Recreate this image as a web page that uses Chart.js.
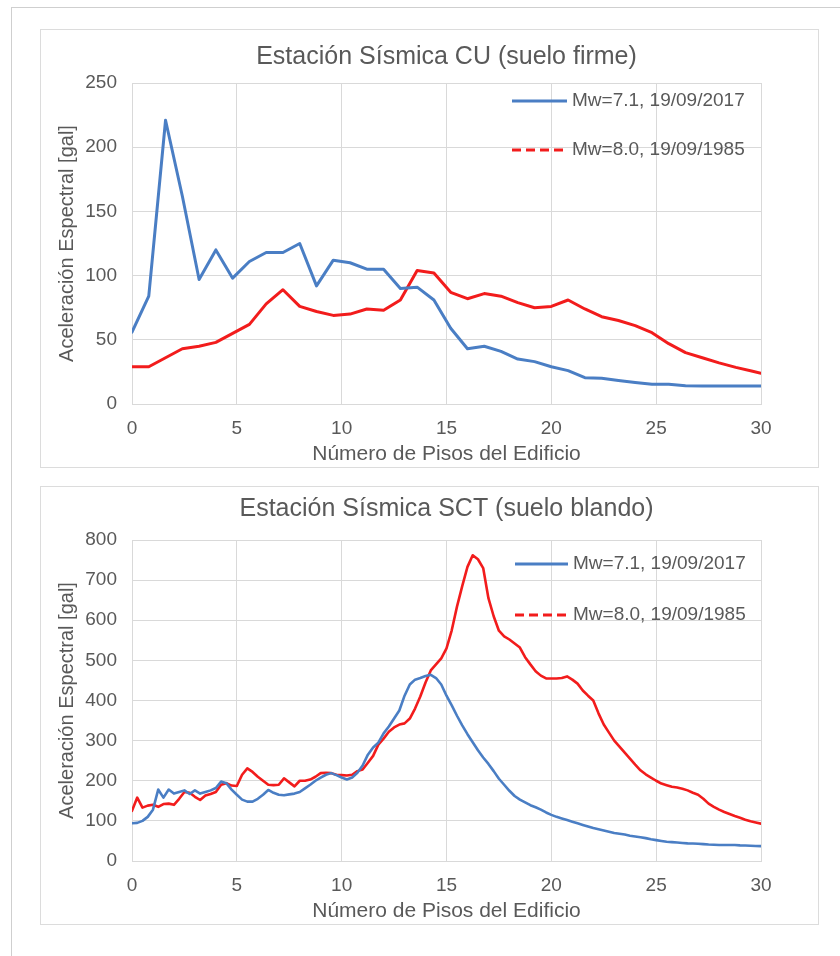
<!DOCTYPE html>
<html>
<head>
<meta charset="utf-8">
<script src="https://cdn.jsdelivr.net/npm/chart.js@4"></script>
<style>
  html, body { margin: 0; padding: 0; background: #fff; }
  body { width: 840px; height: 956px; position: relative; overflow: hidden; }
  .page { position: absolute; left: 11px; top: 7px; right: 0; bottom: 0; border-top: 1px solid #cfcfcf; border-left: 1px solid #cfcfcf; }
  .box { position: absolute; left: 40px; width: 777px; height: 437px; border: 1px solid #dcdcdc; background: #fff; }
  .box div { position: absolute; left: 0; top: 0; width: 777px; height: 437px; }
</style>
</head>
<body>
<div class="page"></div>
<div class="box" style="top:29px"><div><canvas id="chartCU"></canvas></div></div>
<div class="box" style="top:486px"><div><canvas id="chartSCT"></canvas></div></div>
<script>
// Estación CU (suelo firme)
const xCU = [0, 0.8, 1.6, 2.4, 3.2, 4, 4.8, 5.6, 6.4, 7.2, 8, 8.8, 9.6, 10.4, 11.2, 12, 12.8, 13.6, 14.4, 15.2,
  16, 16.8, 17.6, 18.4, 19.2, 20, 20.8, 21.6, 22.4, 23.2, 24, 24.8, 25.6, 26.4, 27.2, 28, 28.8, 29.6, 30];
const cu2017 = [56, 84, 221, 162, 97, 120, 98, 111, 118, 118, 125, 92, 112, 110, 105, 105, 90, 91, 81, 59,
  43, 45, 41, 35, 33, 29, 26, 20.5, 20, 18.3, 16.7, 15.3, 15.3, 14.2, 14, 14, 14, 14, 14];
const cu1985 = [29, 29, 36, 43, 45, 48, 55, 62, 78, 89, 76, 72, 69, 70, 74, 73, 81, 104, 102, 87,
  82, 86, 84, 79, 75, 76, 81, 74, 68, 65, 61, 55.5, 47, 40, 36, 32, 28.5, 25.5, 24];

// Estación SCT (suelo blando)
const xSCT = [0, 0.25, 0.5, 0.75, 1, 1.25, 1.5, 1.75, 2, 2.25, 2.5, 2.75, 3, 3.25, 3.5, 3.75, 4, 4.25, 4.5, 4.75,
  5, 5.25, 5.5, 5.75, 6, 6.25, 6.5, 6.75, 7, 7.25, 7.5, 7.75, 8, 8.25, 8.5, 8.75, 9, 9.25, 9.5, 9.75,
  10, 10.25, 10.5, 10.75, 11, 11.25, 11.5, 11.75, 12, 12.25, 12.5, 12.75, 13, 13.25, 13.5, 13.75, 14, 14.25, 14.5, 14.75,
  15, 15.25, 15.5, 15.75, 16, 16.25, 16.5, 16.75, 17, 17.25, 17.5, 17.75, 18, 18.25, 18.5, 18.75, 19, 19.25, 19.5, 19.75,
  20, 20.25, 20.5, 20.75, 21, 21.25, 21.5, 21.75, 22, 22.25, 22.5, 22.75, 23, 23.25, 23.5, 23.75, 24, 24.25, 24.5, 24.75,
  25, 25.25, 25.5, 25.75, 26, 26.25, 26.5, 26.75, 27, 27.25, 27.5, 27.75, 28, 28.25, 28.5, 28.75, 29, 29.25, 29.5, 29.75, 30];
const sct2017 = [94, 95, 100, 110, 128, 178, 158, 178, 168, 172, 176, 167, 176, 168, 172, 176, 182, 198, 194, 178,
  165, 153, 148, 148, 155, 165, 177, 170, 165, 164, 166, 168, 172, 181, 190, 200, 208, 215, 219, 214,
  208, 203, 208, 220, 238, 265, 283, 295, 318, 335, 355, 375, 412, 440, 452, 456, 461, 464, 456, 440,
  412, 388, 362, 338, 316, 296, 276, 258, 242, 224, 205, 190, 175, 162, 153, 146, 139, 134, 128, 121,
  115, 110, 106, 102, 98, 94, 90, 86, 82, 79, 76, 73, 70, 68, 66, 63, 61, 59, 57, 54,
  52, 50, 48, 47, 46, 45, 44, 43.5, 43, 42, 41, 40.5, 40, 40, 40, 40, 39, 38.5, 38, 37.5, 37];
const sct1985 = [125, 158, 133, 138, 140, 135, 142, 143, 140, 155, 172, 170, 160, 152, 163, 167, 172, 190, 194, 188,
  187, 215, 231, 222, 210, 200, 190, 189, 190, 206, 196, 186, 200, 200, 203, 210, 219, 220, 219, 215,
  214, 213, 215, 224, 228, 245, 262, 290, 305, 322, 333, 340, 343, 355, 380, 410, 445, 475, 490, 505,
  530, 575, 634, 685, 733, 762, 752, 730, 655, 610, 574, 560, 552, 542, 532, 508, 490, 473, 462, 455,
  455, 455, 456, 460, 452, 442, 425, 412, 400, 368, 340, 320, 300, 285, 270, 255, 240, 226, 216, 208,
  200, 193, 189, 185, 183, 180, 176, 170, 165, 155, 143, 135, 128, 122, 117, 112, 108, 103, 99, 96, 93];

const xTicks = [0, 5, 10, 15, 20, 25, 30];
const labels = ['Mw=7.1, 19/09/2017', 'Mw=8.0, 19/09/1985'];

const AZUL = '#4a7ec4';
const ROJO = '#f21c1c';
const TEXTO = '#595959';
const GRID = '#d9d9d9';
const FUENTE = '"Liberation Sans", Arial, sans-serif';

// titulo centrado sobre el area del grafico + leyenda dentro del area (como en Excel)
const decoExcel = {
  id: 'decoExcel',
  afterDraw(chart, args, opts) {
    const { ctx, chartArea } = chart;
    ctx.save();
    ctx.fillStyle = TEXTO;
    ctx.font = '25px ' + FUENTE;
    ctx.textAlign = 'center';
    ctx.textBaseline = 'middle';
    ctx.fillText(opts.titulo, (chartArea.left + chartArea.right) / 2, opts.tituloY);

    ctx.textAlign = 'left';
    ctx.font = '19px ' + FUENTE;
    chart.data.datasets.forEach((ds, i) => {
      const y = chartArea.top + opts.rows[i];
      const x0 = chartArea.left + opts.x;
      ctx.beginPath();
      ctx.strokeStyle = ds.borderColor;
      ctx.lineWidth = 3;
      ctx.setLineDash(i === 1 ? [9, 5] : []);
      ctx.moveTo(x0, y);
      ctx.lineTo(x0 + opts.len, y);
      ctx.stroke();
      ctx.setLineDash([]);
      ctx.fillText(ds.label, x0 + opts.len + 5, y);
    });
    ctx.restore();
  }
};

function puntos(xs, ys) {
  return xs.map((x, i) => ({ x: x, y: ys[i] }));
}

function crearGrafico(id, titulo, xs, s2017, s1985, yMax, yStep, deco, ancho) {
  new Chart(document.getElementById(id), {
    type: 'line',
    data: {
      datasets: [
        { label: labels[0], data: puntos(xs, s2017), borderColor: AZUL, borderWidth: ancho },
        { label: labels[1], data: puntos(xs, s1985), borderColor: ROJO, borderWidth: ancho }
      ]
    },
    options: {
      responsive: true,
      maintainAspectRatio: false,
      animation: false,
      layout: { padding: { left: 0, right: 57, top: 53, bottom: 0 } },
      elements: {
        point: { radius: 0 },
        line: { tension: 0, borderJoinStyle: 'round', borderCapStyle: 'round' }
      },
      plugins: {
        legend: { display: false },
        tooltip: { enabled: false },
        title: { display: false },
        decoExcel: Object.assign({ titulo: titulo }, deco)
      },
      scales: {
        x: {
          type: 'linear',
          min: 0,
          max: 30,
          afterBuildTicks: (axis) => { axis.ticks = xTicks.map(v => ({ value: v })); },
          afterFit: (axis) => { axis.height = 63; },
          grid: { color: GRID, drawTicks: false },
          border: { color: GRID },
          ticks: { color: TEXTO, padding: 13, font: { family: FUENTE, size: 19 } },
          title: {
            display: true,
            text: 'Número de Pisos del Edificio',
            color: TEXTO,
            font: { family: FUENTE, size: 21 },
            padding: { top: 0, bottom: 0 }
          }
        },
        y: {
          min: 0,
          max: yMax,
          afterFit: (axis) => { axis.width = 91; },
          grid: { color: GRID, drawTicks: false },
          border: { color: GRID },
          ticks: { stepSize: yStep, color: TEXTO, padding: 15, font: { family: FUENTE, size: 19 } },
          title: {
            display: true,
            text: 'Aceleración Espectral [gal]',
            color: TEXTO,
            font: { family: FUENTE, size: 20 },
            padding: { top: 14, bottom: 0 }
          }
        }
      }
    },
    plugins: [decoExcel]
  });
}

crearGrafico('chartCU', 'Estación Sísmica CU (suelo firme)', xCU, cu2017, cu1985, 250, 50,
  { tituloY: 27, x: 380, len: 55, rows: [18, 67] }, 3);
crearGrafico('chartSCT', 'Estación Sísmica SCT (suelo blando)', xSCT, sct2017, sct1985, 800, 100,
  { tituloY: 22, x: 383, len: 53, rows: [24, 75] }, 2.6);
</script>
</body>
</html>
